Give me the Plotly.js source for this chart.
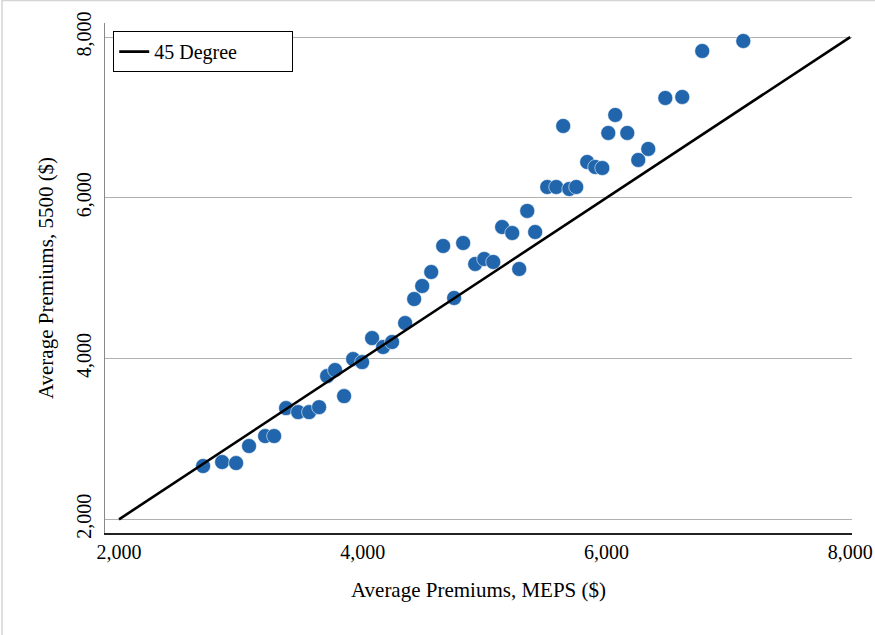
<!DOCTYPE html>
<html>
<head>
<meta charset="utf-8">
<script src="https://cdn.plot.ly/plotly-3.0.1.min.js"></script>
<style>html,body{margin:0;padding:0;background:#fff;}#chart{width:875px;height:635px;}</style>
</head>
<body>
<div id="chart"></div>
<script>
const mepsPremiums = [2690,2846,2961,3067,3199,3273,3371,3470,3560,3642,3708,3773,3847,3921,3995,4077,4167,4241,4348,4422,4488,4562,4660,4750,4824,4923,4997,5071,5144,5227,5284,5350,5415,5514,5588,5645,5695,5752,5842,5908,5966,6015,6072,6171,6261,6343,6483,6622,6786,7123];
const premiums5500 = [2663,2713,2700,2912,3036,3036,3384,3334,3334,3396,3782,3857,3533,3994,3956,4255,4144,4206,4442,4741,4903,5077,5401,4754,5438,5177,5239,5202,5637,5562,5115,5837,5575,6135,6135,6894,6110,6135,6446,6384,6371,6807,7031,6807,6471,6608,7242,7255,7827,7951];
const lineX = [2000, 8000];
const lineY = [2000, 8000];
const tickVals = [2000, 4000, 6000, 8000];
const tickText = ["2,000", "4,000", "6,000", "8,000"];

const font = "Liberation Serif, Times New Roman, serif";

const traces = [
  {
    x: mepsPremiums, y: premiums5500, type: 'scatter', mode: 'markers',
    marker: {size: 15, color: '#2166ac', line: {color: 'rgba(255,255,255,0.7)', width: 0.8}},
    showlegend: false, hoverinfo: 'x+y'
  },
  {
    x: lineX, y: lineY, type: 'scatter', mode: 'lines', name: '45 Degree',
    line: {color: '#000', width: 2.6}
  }
];

const layout = {
  width: 875, height: 635,
  margin: {l: 105, r: 23, t: 23, b: 102},
  paper_bgcolor: '#fff', plot_bgcolor: '#fff',
  font: {family: font, size: 20, color: '#000'},
  showlegend: true,
  legend: {
    orientation: 'h',
    x: 0.011, y: 0.984, xanchor: 'left', yanchor: 'top',
    bordercolor: '#000', borderwidth: 1, bgcolor: '#fff',
    font: {family: font, size: 20, color: '#000'},
    entrywidth: 133, entrywidthmode: 'pixels', itemwidth: 30
  },
  xaxis: {
    range: [1885, 8015],
    tickvals: tickVals, ticktext: tickText,
    showgrid: false, zeroline: false,
    showline: true, linecolor: '#222', linewidth: 1.5,
    ticks: '', ticklabelstandoff: 0,
    tickfont: {family: font, size: 20, color: '#000'},
    title: {text: 'Average Premiums, MEPS ($)', font: {family: font, size: 21, color: '#000'}, standoff: 21}
  },
  yaxis: {
    range: [1830, 8175],
    tickvals: tickVals, ticktext: tickText,
    tickangle: -90,
    showgrid: true, gridcolor: '#b0b0b0', gridwidth: 1,
    zeroline: false,
    showline: true, linecolor: '#888', linewidth: 1.5,
    ticks: '', ticklabelstandoff: 5,
    tickfont: {family: font, size: 20, color: '#000'},
    title: {text: 'Average Premiums, 5500 ($)', font: {family: font, size: 21, color: '#000'}, standoff: 13}
  },
  shapes: [
    {type: 'path', xref: 'paper', yref: 'paper',
     path: 'M -0.1379 -0.2 L -0.1379 1.0441 L 1.2 1.0441',
     line: {color: '#d4d4d4', width: 1.5}}
  ]
};

Plotly.newPlot('chart', traces, layout, {displayModeBar: false, staticPlot: true});
</script>
</body>
</html>
